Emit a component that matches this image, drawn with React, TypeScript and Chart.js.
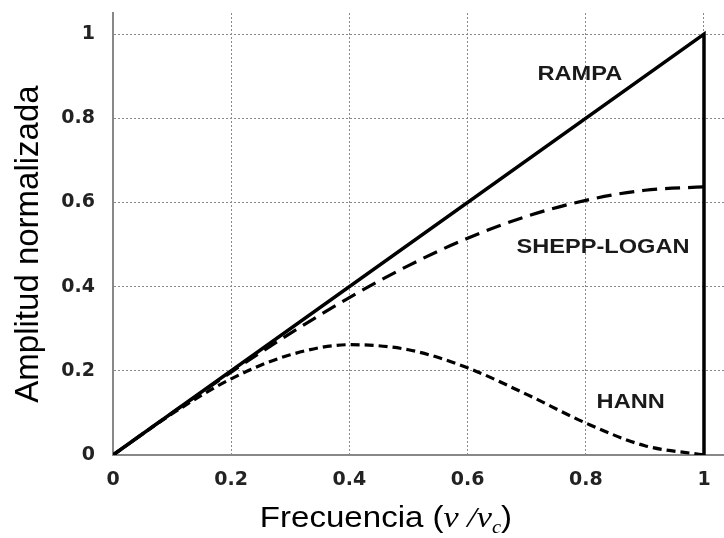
import React, { useEffect, useRef } from "react";
import { Chart, registerables } from "chart.js";

Chart.register(...registerables);

// ---- data ----
const FREQ = [0, 0.1, 0.2, 0.3, 0.4, 0.5, 0.6, 0.7, 0.8, 0.9, 1.0];
const RAMPA_X = [0, 1, 1];
const RAMPA_Y = [0, 1, 0];
const SHEPP_LOGAN = [0, 0.1, 0.197, 0.289, 0.374, 0.45, 0.515, 0.567, 0.605, 0.629, 0.637];
const HANN = [0, 0.098, 0.181, 0.238, 0.262, 0.25, 0.207, 0.144, 0.076, 0.022, 0];
const X_TICKS = [0, 0.2, 0.4, 0.6, 0.8, 1];
const Y_TICKS = [0, 0.2, 0.4, 0.6, 0.8, 1];
const CURVE_LABELS = ["RAMPA", "SHEPP-LOGAN", "HANN"];
const LABEL_X = [0.79, 0.829, 0.876];
const LABEL_Y = [0.903, 0.494, 0.124];
const Y_TITLE = "Amplitud normalizada";
const X_TITLE_TEXT = "Frecuencia (";
const X_TITLE_NU = "ν";
const X_TITLE_SLASH = " /";
const X_TITLE_SUB = "c";
const X_TITLE_END = ")";

const SANS = '"Liberation Sans", Arial, Helvetica, sans-serif';
const SERIF = '"Liberation Serif", "Times New Roman", serif';

const textPlugin = {
  id: "textPlugin",
  afterDraw(chart: any) {
    const ctx: CanvasRenderingContext2D = chart.ctx;
    const xs = chart.scales.x;
    const ys = chart.scales.y;
    ctx.save();
    // curve labels
    ctx.fillStyle = "#1a1a1a";
    ctx.font = `bold 20px ${SANS}`;
    ctx.textAlign = "center";
    ctx.textBaseline = "middle";
    CURVE_LABELS.forEach((t, i) => {
      const px = xs.getPixelForValue(LABEL_X[i]);
      const py = ys.getPixelForValue(LABEL_Y[i]);
      ctx.save();
      ctx.translate(px, py);
      ctx.scale(1.18, 1);
      ctx.fillText(t, 0, 0);
      ctx.restore();
    });

    // y title
    ctx.save();
    ctx.fillStyle = "#000";
    ctx.font = `33px ${SANS}`;
    ctx.textAlign = "center";
    ctx.textBaseline = "middle";
    ctx.translate(29, (ys.top + ys.bottom) / 2 + 10);
    ctx.rotate(-Math.PI / 2);
    ctx.fillText(Y_TITLE, 0, 0);
    ctx.restore();

    // x title (mixed fonts)
    const sx = 1.14;
    const baseline = 527;
    const parts = [
      { t: X_TITLE_TEXT, f: `29px ${SANS}`, dy: 0 },
      { t: X_TITLE_NU, f: `italic 30px ${SERIF}`, dy: 0 },
      { t: X_TITLE_SLASH, f: `italic 30px ${SERIF}`, dy: 0 },
      { t: X_TITLE_NU, f: `italic 30px ${SERIF}`, dy: 0 },
      { t: X_TITLE_SUB, f: `italic 18px ${SERIF}`, dy: 6 },
      { t: X_TITLE_END, f: `29px ${SANS}`, dy: 0 },
    ];
    let total = 0;
    parts.forEach((p) => {
      ctx.font = p.f;
      total += ctx.measureText(p.t).width * sx;
    });
    let cx = 386 - total / 2;
    ctx.fillStyle = "#000";
    ctx.textAlign = "left";
    ctx.textBaseline = "alphabetic";
    parts.forEach((p) => {
      ctx.font = p.f;
      const w = ctx.measureText(p.t).width * sx;
      ctx.save();
      ctx.translate(cx, baseline + p.dy);
      ctx.scale(sx, 1);
      ctx.fillText(p.t, 0, 0);
      ctx.restore();
      cx += w;
    });
    ctx.restore();
  },
};

const tickFmt = (v: any) => String(Number(v));
const gridColor = (ticksList: number[]) => (c: any) =>
  c.tick && ticksList.some((t) => Math.abs(t - c.tick.value) < 1e-9) ? "#8a8a8a" : "rgba(0,0,0,0)";

export default function App() {
  const ref = useRef<HTMLCanvasElement>(null);

  useEffect(() => {
    if (!ref.current) return;
    const chart = new Chart(ref.current, {
      type: "line",
      data: {
        datasets: [
          {
            label: "RAMPA",
            data: RAMPA_X.map((x, i) => ({ x, y: RAMPA_Y[i] })),
            borderColor: "#000",
            borderWidth: 3.5,
            pointRadius: 0,
            tension: 0,
            fill: false,
          },
          {
            label: "SHEPP-LOGAN",
            data: FREQ.map((x, i) => ({ x, y: SHEPP_LOGAN[i] })),
            borderColor: "#000",
            borderWidth: 3.2,
            borderDash: [15, 8],
            pointRadius: 0,
            cubicInterpolationMode: "monotone",
            fill: false,
          },
          {
            label: "HANN",
            data: FREQ.map((x, i) => ({ x, y: HANN[i] })),
            borderColor: "#000",
            borderWidth: 3.2,
            borderDash: [9, 5],
            pointRadius: 0,
            cubicInterpolationMode: "monotone",
            fill: false,
          },
        ],
      },
      options: {
        animation: false,
        responsive: false,
        devicePixelRatio: 1,
        layout: { padding: { top: 13, right: 0, left: 0, bottom: 0 } },
        plugins: {
          legend: { display: false },
          title: { display: false },
          tooltip: { enabled: false },
        },
        scales: {
          x: {
            type: "linear",
            min: 0,
            max: 1.0677,
            afterBuildTicks: (s: any) => {
              s.ticks = X_TICKS.map((v) => ({ value: v }));
            },
            afterFit: (s: any) => {
              s.height = 83;
              s.paddingLeft = 0;
              s.paddingRight = 0;
              s.paddingTop = 0;
              s.paddingBottom = 0;
            },
            grid: { color: gridColor(X_TICKS), lineWidth: 1, drawTicks: false },
            border: { display: true, color: "#888", width: 2, dash: [2, 2] },
            ticks: {
              padding: 14,
              color: "#222",
              maxRotation: 0,
              callback: tickFmt,
              font: { family: '"DejaVu Sans", sans-serif', weight: "bold", size: 19 },
            },
          },
          y: {
            type: "linear",
            min: 0,
            max: 1.05,
            afterBuildTicks: (s: any) => {
              s.ticks = Y_TICKS.map((v) => ({ value: v }));
            },
            afterFit: (s: any) => {
              s.width = 113;
              s.paddingLeft = 0;
              s.paddingRight = 0;
              s.paddingTop = 0;
              s.paddingBottom = 0;
            },
            grid: { color: gridColor(Y_TICKS), lineWidth: 1, drawTicks: false },
            border: { display: true, color: "#888", width: 2, dash: [2, 2] },
            ticks: {
              padding: 18,
              color: "#222",
              callback: tickFmt,
              font: { family: '"DejaVu Sans", sans-serif', weight: "bold", size: 19 },
            },
          },
        },
      },
      plugins: [textPlugin],
    } as any);
    return () => chart.destroy();
  }, []);

  return (
    <div
      style={{
        position: "fixed",
        left: 0,
        top: 0,
        width: 724,
        height: 538,
        overflow: "hidden",
        background: "#fff",
      }}
    >
      <canvas ref={ref} width={744} height={538} style={{ width: 744, height: 538, display: "block" }} />
    </div>
  );
}
